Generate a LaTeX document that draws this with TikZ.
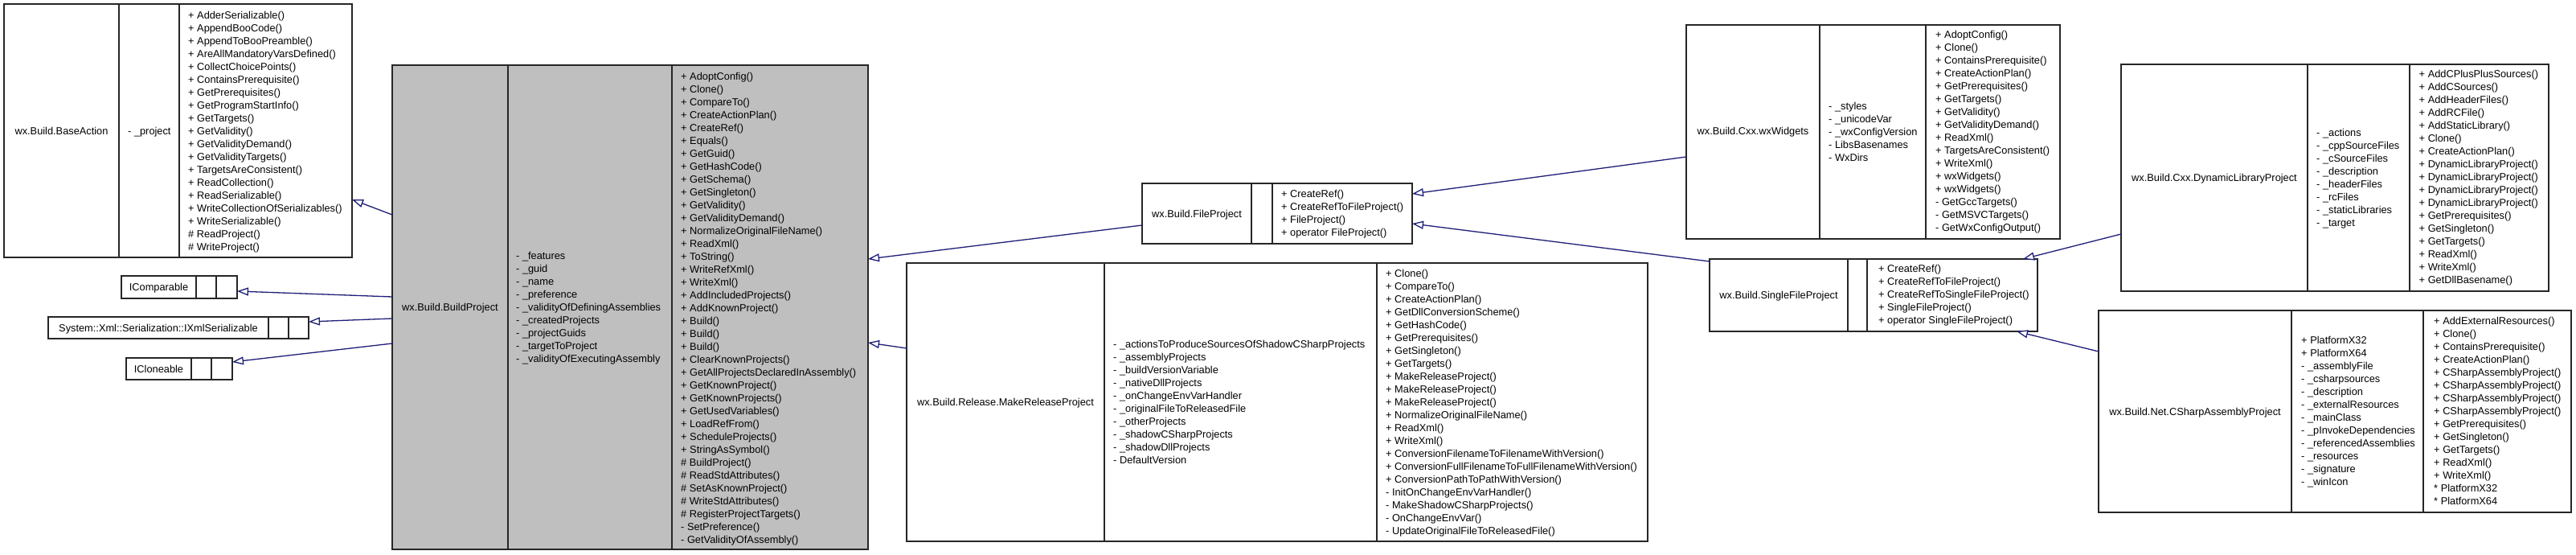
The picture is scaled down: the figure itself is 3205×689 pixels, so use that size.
\documentclass[tikz,border=0pt]{standalone}
\usepackage{fontspec}
\setmainfont{Liberation Sans}
\usetikzlibrary{arrows.meta}
\definecolor{edgecol}{RGB}{30,30,120}
\definecolor{bpgray}{RGB}{191,191,191}
\newcommand\lst[1]{\begin{tabular}[t]{@{}l@{}}#1\end{tabular}}
\newcommand\umlclass[8]{%
  \node[classbox, fill=#8, anchor=north west, minimum width={(#4-#2)*1pt}, minimum height={(#5-#3)*1pt}] (#1) at (#2,#3) {};
  \draw[divider] (#6,#3) -- (#6,#5) (#7,#3) -- (#7,#5);
}
\tikzset{
  classbox/.style={draw=black!85, line width=1.6pt, inner sep=0pt, outer sep=0pt},
  divider/.style={draw=black!85, line width=1.6pt},
  txt/.style={inner sep=0pt, anchor=base west, font=\fontsize{12.8}{16}\selectfont},
  ttl/.style={inner sep=0pt, anchor=base, font=\fontsize{12.8}{16}\selectfont},
  gen/.style={draw=edgecol, line width=1.3pt, -{Triangle[open, length=14pt, width=10pt, fill=white]}},
}
\begin{document}
\begin{tikzpicture}[x=1pt,y=-1pt]
\path[fill=white] (0,0) rectangle (3205,689);
\useasboundingbox (0,0) rectangle (3205,689);

% ---------- BaseAction
\umlclass{ba}{5}{5}{438}{320}{148}{223}{white}
\node[ttl] (ba-t) at (76.5,167.5) {wx.Build.BaseAction};
\node[txt] (ba-a) at (159,167.5) {- \_project};
\node[txt] (ba-m) at (234,23.5) {\lst{+ AdderSerializable()\\+ AppendBooCode()\\+ AppendToBooPreamble()\\+ AreAllMandatoryVarsDefined()\\+ CollectChoicePoints()\\+ ContainsPrerequisite()\\+ GetPrerequisites()\\+ GetProgramStartInfo()\\+ GetTargets()\\+ GetValidity()\\+ GetValidityDemand()\\+ GetValidityTargets()\\+ TargetsAreConsistent()\\+ ReadCollection()\\+ ReadSerializable()\\+ WriteCollectionOfSerializables()\\+ WriteSerializable()\\\# ReadProject()\\\# WriteProject()}};

% ---------- Interfaces
\umlclass{ic}{151}{343}{295}{371}{244}{269}{white}
\node[ttl] (ic-t) at (197.5,361.5) {IComparable};
\umlclass{ix}{60}{394}{384}{421}{334}{359}{white}
\node[ttl] (ix-t) at (197,412) {System::Xml::Serialization::IXmlSerializable};
\umlclass{icl}{157}{445}{289}{472}{238}{263}{white}
\node[ttl] (icl-t) at (197.5,463) {ICloneable};

% ---------- BuildProject
\umlclass{bp}{488}{81}{1080}{683}{632}{836}{bpgray}
\node[ttl] (bp-t) at (560,386.5) {wx.Build.BuildProject};
\node[txt] (bp-a) at (642,322.5) {\lst{- \_features\\- \_guid\\- \_name\\- \_preference\\- \_validityOfDefiningAssemblies\\- \_createdProjects\\- \_projectGuids\\- \_targetToProject\\- \_validityOfExecutingAssembly}};
\node[txt] (bp-m) at (847,99.5) {\lst{+ AdoptConfig()\\+ Clone()\\+ CompareTo()\\+ CreateActionPlan()\\+ CreateRef()\\+ Equals()\\+ GetGuid()\\+ GetHashCode()\\+ GetSchema()\\+ GetSingleton()\\+ GetValidity()\\+ GetValidityDemand()\\+ NormalizeOriginalFileName()\\+ ReadXml()\\+ ToString()\\+ WriteRefXml()\\+ WriteXml()\\+ AddIncludedProjects()\\+ AddKnownProject()\\+ Build()\\+ Build()\\+ Build()\\+ ClearKnownProjects()\\+ GetAllProjectsDeclaredInAssembly()\\+ GetKnownProject()\\+ GetKnownProjects()\\+ GetUsedVariables()\\+ LoadRefFrom()\\+ ScheduleProjects()\\+ StringAsSymbol()\\\# BuildProject()\\\# ReadStdAttributes()\\\# SetAsKnownProject()\\\# WriteStdAttributes()\\\# RegisterProjectTargets()\\- SetPreference()\\- GetValidityOfAssembly()}};

% ---------- FileProject
\umlclass{fp}{1421}{228}{1757}{303}{1557}{1583}{white}
\node[ttl] (fp-t) at (1489,270) {wx.Build.FileProject};
\node[txt] (fp-m) at (1594,245.5) {\lst{+ CreateRef()\\+ CreateRefToFileProject()\\+ FileProject()\\+ operator FileProject()}};

% ---------- MakeReleaseProject
\umlclass{mr}{1128}{327}{2050}{673}{1374}{1713}{white}
\node[ttl] (mr-t) at (1251,504.5) {wx.Build.Release.MakeReleaseProject};
\node[txt] (mr-a) at (1385,432.5) {\lst{- \_actionsToProduceSourcesOfShadowCSharpProjects\\- \_assemblyProjects\\- \_buildVersionVariable\\- \_nativeDllProjects\\- \_onChangeEnvVarHandler\\- \_originalFileToReleasedFile\\- \_otherProjects\\- \_shadowCSharpProjects\\- \_shadowDllProjects\\- DefaultVersion}};
\node[txt] (mr-m) at (1724,344.5) {\lst{+ Clone()\\+ CompareTo()\\+ CreateActionPlan()\\+ GetDllConversionScheme()\\+ GetHashCode()\\+ GetPrerequisites()\\+ GetSingleton()\\+ GetTargets()\\+ MakeReleaseProject()\\+ MakeReleaseProject()\\+ MakeReleaseProject()\\+ NormalizeOriginalFileName()\\+ ReadXml()\\+ WriteXml()\\+ ConversionFilenameToFilenameWithVersion()\\+ ConversionFullFilenameToFullFilenameWithVersion()\\+ ConversionPathToPathWithVersion()\\- InitOnChangeEnvVarHandler()\\- MakeShadowCSharpProjects()\\- OnChangeEnvVar()\\- UpdateOriginalFileToReleasedFile()}};

% ---------- wxWidgets
\umlclass{wx}{2098}{31}{2563}{297}{2264}{2396}{white}
\node[ttl] (wx-t) at (2181,167.5) {wx.Build.Cxx.wxWidgets};
\node[txt] (wx-a) at (2275,136.5) {\lst{- \_styles\\- \_unicodeVar\\- \_wxConfigVersion\\- LibsBasenames\\- WxDirs}};
\node[txt] (wx-m) at (2408,47.5) {\lst{+ AdoptConfig()\\+ Clone()\\+ ContainsPrerequisite()\\+ CreateActionPlan()\\+ GetPrerequisites()\\+ GetTargets()\\+ GetValidity()\\+ GetValidityDemand()\\+ ReadXml()\\+ TargetsAreConsistent()\\+ WriteXml()\\+ wxWidgets()\\+ wxWidgets()\\- GetGccTargets()\\- GetMSVCTargets()\\- GetWxConfigOutput()}};

% ---------- SingleFileProject
\umlclass{sf}{2127}{322}{2535}{412}{2299}{2323}{white}
\node[ttl] (sf-t) at (2213,371.5) {wx.Build.SingleFileProject};
\node[txt] (sf-m) at (2337,338.5) {\lst{+ CreateRef()\\+ CreateRefToFileProject()\\+ CreateRefToSingleFileProject()\\+ SingleFileProject()\\+ operator SingleFileProject()}};

% ---------- DynamicLibraryProject
\umlclass{dl}{2639}{80}{3171}{362}{2871}{2998}{white}
\node[ttl] (dl-t) at (2755,225.5) {wx.Build.Cxx.DynamicLibraryProject};
\node[txt] (dl-a) at (2882,169.5) {\lst{- \_actions\\- \_cppSourceFiles\\- \_cSourceFiles\\- \_description\\- \_headerFiles\\- \_rcFiles\\- \_staticLibraries\\- \_target}};
\node[txt] (dl-m) at (3009.5,96.5) {\lst{+ AddCPlusPlusSources()\\+ AddCSources()\\+ AddHeaderFiles()\\+ AddRCFile()\\+ AddStaticLibrary()\\+ Clone()\\+ CreateActionPlan()\\+ DynamicLibraryProject()\\+ DynamicLibraryProject()\\+ DynamicLibraryProject()\\+ DynamicLibraryProject()\\+ GetPrerequisites()\\+ GetSingleton()\\+ GetTargets()\\+ ReadXml()\\+ WriteXml()\\+ GetDllBasename()}};

% ---------- CSharpAssemblyProject
\umlclass{cs}{2611}{386}{3199}{637}{2851}{3015}{white}
\node[ttl] (cs-t) at (2731,516.5) {wx.Build.Net.CSharpAssemblyProject};
\node[txt] (cs-a) at (2863,427.5) {\lst{+ PlatformX32\\+ PlatformX64\\- \_assemblyFile\\- \_csharpsources\\- \_description\\- \_externalResources\\- \_mainClass\\- \_pInvokeDependencies\\- \_referencedAssemblies\\- \_resources\\- \_signature\\- \_winIcon}};
\node[txt] (cs-m) at (3028,403.5) {\lst{+ AddExternalResources()\\+ Clone()\\+ ContainsPrerequisite()\\+ CreateActionPlan()\\+ CSharpAssemblyProject()\\+ CSharpAssemblyProject()\\+ CSharpAssemblyProject()\\+ CSharpAssemblyProject()\\+ GetPrerequisites()\\+ GetSingleton()\\+ GetTargets()\\+ ReadXml()\\+ WriteXml()\\{*} PlatformX32\\{*} PlatformX64}};

% ---------- connector end points
\coordinate (ba-in) at (438,248);   \coordinate (bp-o1) at (488,267);
\coordinate (ic-in) at (295,362);   \coordinate (bp-o2) at (488,369);
\coordinate (ix-in) at (384,400);   \coordinate (bp-o3) at (488,396);
\coordinate (icl-in) at (289,450);  \coordinate (bp-o4) at (488,427);
\coordinate (bp-in1) at (1080,322); \coordinate (fp-o) at (1421,280);
\coordinate (bp-in2) at (1080,426); \coordinate (mr-o) at (1128,433);
\coordinate (fp-in1) at (1757,241); \coordinate (wx-o) at (2098,195);
\coordinate (fp-in2) at (1757,278); \coordinate (sf-o) at (2127,325);
\coordinate (sf-in1) at (2517,322); \coordinate (dl-o) at (2639,291);
\coordinate (sf-in2) at (2509,412); \coordinate (cs-o) at (2611,437);

% ---------- generalisations
\draw[gen] (bp-o1) -- (ba-in);
\draw[gen] (bp-o2) -- (ic-in);
\draw[gen] (bp-o3) -- (ix-in);
\draw[gen] (bp-o4) -- (icl-in);
\draw[gen] (fp-o) -- (bp-in1);
\draw[gen] (mr-o) -- (bp-in2);
\draw[gen] (wx-o) -- (fp-in1);
\draw[gen] (sf-o) -- (fp-in2);
\draw[gen] (dl-o) -- (sf-in1);
\draw[gen] (cs-o) -- (sf-in2);
\end{tikzpicture}
\end{document}
